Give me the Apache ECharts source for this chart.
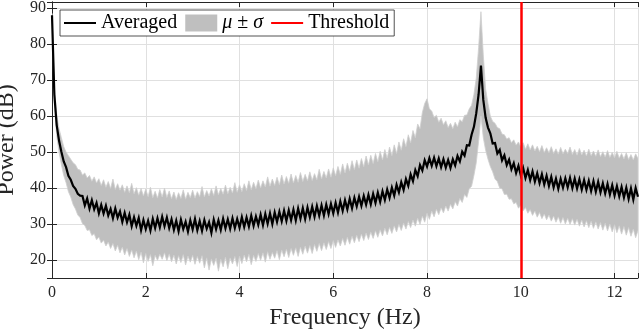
<!DOCTYPE html>
<html>
<head>
<meta charset="utf-8">
<script src="https://cdn.jsdelivr.net/npm/echarts@6/dist/echarts.min.js"></script>
<style>
    html, body { margin: 0; padding: 0; background: #fff; }
    #myChart { width: 640px; height: 331px; }
</style>
</head>
<body>
<div id="myChart"></div>
<script>
    // spectrum sampled every 0.05 Hz from 0 to 12.5 Hz
    var freqStep = 0.05;
    var avgPower = [
        88, 66, 57.5, 53.2, 50.1, 47.4, 45.8, 43.4, 42.3, 40.6,
        39.8, 38.4, 37.9, 37.8, 35.2, 37.1, 34.3, 36.6, 34.1, 35.9,
        33.0, 35.3, 32.9, 35.1, 32.4, 34.2, 31.6, 34.3, 31.8, 33.5,
        30.6, 33.1, 30.5, 32.6, 29.4, 31.9, 29.5, 31.7, 28.3, 31.1,
        28.6, 30.9, 28.2, 31.4, 28.9, 31.6, 29.1, 32.0, 29.4, 31.8,
        28.9, 31.3, 28.4, 30.9, 28.0, 31.2, 28.6, 30.6, 27.9, 31.0,
        28.5, 31.4, 28.3, 30.8, 28.1, 31.1, 28.7, 30.5, 27.6, 31.2,
        28.6, 31.0, 28.4, 31.5, 28.8, 31.3, 28.7, 31.6, 28.9, 31.4,
        29.0, 31.9, 29.2, 31.8, 29.3, 32.3, 29.5, 32.1, 29.8, 32.6,
        29.7, 32.8, 30.1, 33.0, 30.0, 33.2, 30.6, 33.4, 30.8, 33.7,
        30.9, 33.8, 31.1, 34.0, 31.0, 34.3, 31.5, 34.4, 31.4, 34.6,
        31.9, 34.8, 32.0, 35.0, 32.3, 35.2, 32.4, 35.4, 32.8, 35.6,
        33.0, 35.9, 33.2, 36.3, 33.7, 36.6, 34.1, 37.0, 34.4, 37.3,
        34.9, 37.6, 35.1, 37.8, 35.4, 38.1, 35.5, 38.4, 35.9, 38.7,
        36.2, 39.1, 36.7, 39.6, 37.3, 40.1, 37.9, 40.9, 38.8, 41.6,
        39.5, 42.5, 40.6, 43.8, 41.9, 45.0, 43.3, 46.4, 44.9, 47.7,
        46.0, 48.3, 46.2, 48.4, 46.1, 48.2, 45.8, 48.0, 45.7, 47.8,
        45.6, 48.0, 46.3, 48.9, 47.4, 50.1, 49.0, 51.9, 51.8, 54.8,
        57.0, 60.8, 66.0, 74.0, 64.5, 59.5, 56.8, 55.2, 52.4, 52.5,
        49.6, 50.6, 47.7, 49.1, 46.4, 47.9, 45.2, 46.9, 44.2, 46.2,
        43.5, 45.6, 42.8, 45.0, 42.2, 44.6, 41.8, 44.1, 41.4, 43.8,
        41.0, 43.4, 40.6, 43.1, 40.2, 42.6, 39.8, 42.5, 40.1, 42.7,
        40.2, 42.8, 40.0, 42.6, 39.9, 42.4, 39.6, 42.2, 39.5, 42.0,
        39.2, 41.9, 39.0, 41.7, 38.8, 41.3, 38.5, 41.1, 38.2, 40.8,
        37.9, 40.5, 37.7, 40.3, 37.4, 40.1, 37.0, 39.9, 36.8, 40.0,
        37.6
    ];
    var upperPower = [
        88.5, 68, 60.5, 56.5, 54, 51.5, 50, 49, 48, 47,
        46.5, 45.2, 45.0, 43.6, 44.2, 42.8, 43.5, 41.9, 43.1, 41.4,
        42.6, 40.7, 42.3, 40.2, 41.8, 39.9, 42.5, 39.6, 41.2, 39.4,
        40.9, 38.8, 40.6, 38.7, 41.3, 38.4, 40.1, 38.0, 39.9, 37.8,
        39.7, 37.6, 40.2, 37.3, 39.1, 37.2, 39.6, 37.5, 40.0, 37.4,
        39.2, 37.0, 38.9, 36.8, 38.7, 37.1, 39.5, 36.9, 38.8, 37.3,
        39.4, 37.2, 39.0, 37.6, 40.4, 37.5, 39.3, 37.8, 39.8, 37.9,
        40.6, 38.1, 39.9, 38.3, 40.8, 38.4, 40.2, 38.6, 41.5, 38.8,
        40.9, 39.0, 41.2, 39.3, 42.0, 39.5, 41.6, 39.8, 42.2, 40.0,
        42.0, 40.3, 43.1, 40.5, 42.5, 40.7, 43.0, 40.9, 43.6, 41.1,
        43.2, 41.3, 43.9, 41.4, 43.5, 41.6, 44.3, 41.8, 43.8, 42.0,
        44.5, 42.1, 44.0, 42.3, 45.2, 42.5, 44.6, 42.8, 45.3, 43.0,
        45.6, 43.4, 46.0, 43.8, 46.7, 44.2, 46.9, 44.7, 47.6, 45.1,
        47.8, 45.5, 48.2, 45.9, 48.9, 46.4, 49.1, 46.8, 49.6, 47.3,
        50.2, 47.8, 50.7, 48.3, 51.4, 49.0, 52.0, 49.6, 52.8, 50.5,
        53.7, 51.5, 54.8, 52.6, 56.0, 54.0, 57.8, 56.5, 61.0, 63.5,
        64.8, 62.0, 61.4, 59.6, 60.2, 58.3, 59.4, 57.6, 58.7, 56.8,
        58.0, 56.5, 58.3, 57.0, 59.0, 58.4, 60.2, 60.3, 62.0, 63.0,
        66.0, 70.5, 79.0, 89.0, 77.0, 67.5, 63.5, 60.0, 58.5, 58.0,
        56.8, 56.5, 55.0, 54.8, 53.6, 54.0, 52.6, 53.4, 51.9, 52.8,
        51.4, 52.6, 50.8, 52.3, 50.6, 52.0, 50.3, 51.6, 50.1, 51.8,
        49.9, 51.2, 49.8, 51.5, 49.6, 50.9, 49.4, 51.3, 49.5, 50.8,
        49.6, 51.4, 49.3, 50.7, 49.1, 51.0, 49.2, 50.5, 48.9, 50.8,
        49.0, 50.3, 48.8, 50.6, 48.7, 50.1, 48.6, 50.4, 48.5, 49.9,
        48.4, 50.2, 48.3, 49.6, 48.1, 49.8, 47.9, 49.3, 47.8, 49.5,
        48.2
    ];
    var lowerPower = [
        87, 63.5, 54.5, 50, 46.5, 43.5, 41.5, 39, 37.5, 35.4,
        34.2, 32.5, 31.8, 30.1, 29.6, 28.2, 28.4, 26.8, 27.3, 25.6,
        26.4, 24.7, 25.5, 23.9, 25.0, 23.2, 24.6, 22.5, 24.1, 22.0,
        23.6, 21.4, 23.2, 21.0, 22.8, 20.6, 22.5, 20.1, 22.2, 19.2,
        21.8, 19.6, 21.5, 18.4, 21.3, 19.9, 21.6, 20.2, 22.0, 19.8,
        21.7, 19.5, 21.4, 18.9, 21.2, 19.3, 21.5, 18.6, 21.1, 19.4,
        21.3, 18.8, 21.0, 19.1, 21.2, 17.8, 20.6, 17.2, 20.3, 18.5,
        20.5, 16.9, 20.2, 18.1, 20.8, 17.6, 20.6, 18.9, 21.0, 18.2,
        21.1, 19.0, 21.4, 19.5, 21.6, 18.7, 21.3, 19.6, 21.8, 19.9,
        22.0, 19.4, 22.3, 20.2, 22.1, 20.5, 22.6, 20.1, 22.8, 20.9,
        23.0, 20.7, 23.2, 21.3, 23.4, 21.0, 23.6, 21.6, 23.9, 21.9,
        24.0, 21.8, 24.3, 22.4, 24.6, 22.6, 24.8, 22.9, 25.1, 23.2,
        25.4, 23.5, 25.6, 23.9, 26.0, 24.1, 26.3, 24.4, 26.6, 24.8,
        26.9, 25.1, 27.2, 25.4, 27.5, 25.7, 27.8, 26.0, 28.1, 26.3,
        28.4, 26.7, 28.8, 27.0, 29.1, 27.4, 29.5, 27.8, 29.9, 28.2,
        30.3, 28.6, 30.7, 29.0, 31.1, 29.4, 31.6, 29.9, 32.2, 30.5,
        33.0, 31.3, 33.6, 32.0, 34.1, 32.6, 34.5, 33.1, 35.0, 33.6,
        35.5, 34.2, 36.2, 35.0, 37.1, 36.0, 38.2, 37.4, 39.8, 40.5,
        43.5, 47.0, 53.0, 60.0, 54.0, 50.5, 48.0, 46.0, 44.5, 42.5,
        41.8, 40.0, 39.8, 38.2, 38.3, 36.9, 37.0, 35.6, 36.0, 34.4,
        35.2, 33.7, 34.6, 33.0, 34.0, 32.4, 33.6, 31.9, 33.2, 31.5,
        32.8, 31.2, 32.5, 30.8, 32.2, 30.5, 32.0, 30.2, 31.8, 30.0,
        31.6, 29.9, 31.5, 29.7, 31.3, 29.4, 31.1, 29.2, 30.9, 29.0,
        30.8, 28.8, 30.6, 28.6, 30.4, 28.3, 30.2, 28.1, 30.0, 27.8,
        29.8, 27.6, 29.5, 27.2, 29.3, 26.9, 29.0, 26.6, 28.6, 26.2,
        28.2
    ];
    var threshold = 10;
    var xRange = [0, 12.5];
    var yRange = [15, 91.7];

    var serif = "'Liberation Serif', 'DejaVu Serif', serif";
    var axisColor = '#262626';
    var bandColor = '#bfbfbf';

    function freqAt(i) { return +(i * freqStep).toFixed(2); }
    function pairs(values) {
        return values.map(function (v, i) { return [freqAt(i), v]; });
    }
    // [freq, lower, upper] rows for the mu +/- sigma band
    var bandRows = lowerPower.map(function (v, i) { return [freqAt(i), v, upperPower[i]]; });

    var option = {
        animation: false,
        grid: { left: 52, right: 2, top: 2, bottom: 53, outerBoundsMode: 'none', containLabel: false },
        legend: {
            left: 60,
            top: 10,
            padding: [3, 5, 3, 4],
            itemGap: 8,
            itemWidth: 32,
            itemHeight: 17,
            backgroundColor: '#fff',
            borderColor: axisColor,
            borderWidth: 0.8,
            textStyle: {
                fontFamily: serif, fontSize: 20, color: '#000',
                rich: { i: { fontFamily: serif, fontSize: 20, fontStyle: 'italic', color: '#000' } }
            },
            formatter: function (name) {
                return name === 'μ ± σ' ? '{i|μ} ± {i|σ}' : name;
            },
            data: [
                { name: 'Averaged', icon: 'path://M0,0L32,0L32,2L0,2Z', itemStyle: { color: '#000' } },
                { name: 'μ ± σ', icon: 'rect', itemStyle: { color: bandColor } },
                { name: 'Threshold', icon: 'path://M0,0L32,0L32,2L0,2Z', itemStyle: { color: '#ff0000' } }
            ]
        },
        xAxis: [{
            type: 'value',
            min: xRange[0], max: xRange[1], interval: 2,
            position: 'bottom',
            name: 'Frequency (Hz)',
            nameLocation: 'middle',
            nameGap: 23,
            nameTextStyle: { fontFamily: serif, fontSize: 24, color: axisColor },
            axisLine: { show: true, lineStyle: { color: axisColor, width: 1 } },
            axisTick: { show: true, inside: true, length: 5, lineStyle: { color: axisColor } },
            axisLabel: {
                fontFamily: serif, fontSize: 16, color: axisColor, margin: 7,
                formatter: function (v) { return v % 2 === 0 ? v : ''; }
            },
            splitLine: { show: true, lineStyle: { color: '#e0e0e0', width: 1 } }
        }, {
            type: 'value',
            min: xRange[0], max: xRange[1], interval: 2,
            position: 'top',
            axisLine: { show: true, lineStyle: { color: axisColor, width: 1 } },
            axisTick: { show: true, inside: true, length: 5, lineStyle: { color: axisColor } },
            axisLabel: { show: false },
            splitLine: { show: false }
        }],
        yAxis: [{
            type: 'value',
            min: yRange[0], max: yRange[1], splitNumber: 8,
            position: 'left',
            name: 'Power (dB)',
            nameLocation: 'middle',
            nameGap: 26,
            nameTextStyle: { fontFamily: serif, fontSize: 24, color: axisColor },
            axisLine: { show: true, lineStyle: { color: axisColor, width: 1 } },
            axisTick: { show: true, inside: true, length: 5, lineStyle: { color: axisColor } },
            axisLabel: {
                fontFamily: serif, fontSize: 16, color: axisColor, margin: 6,
                formatter: function (v) { return v % 10 === 0 ? v : ''; }
            },
            splitLine: { show: true, lineStyle: { color: '#e0e0e0', width: 1 } }
        }, {
            type: 'value',
            min: yRange[0], max: yRange[1], splitNumber: 8,
            position: 'right',
            axisLine: { show: true, lineStyle: { color: axisColor, width: 1 } },
            axisTick: { show: true, inside: true, length: 5, lineStyle: { color: axisColor } },
            axisLabel: { show: false },
            splitLine: { show: false }
        }],
        series: [{
            name: 'μ ± σ',
            type: 'custom',
            data: bandRows,
            silent: true,
            clip: true,
            itemStyle: { color: bandColor },
            encode: { x: 0, y: [1, 2] },
            renderItem: function (params, api) {
                // draw the whole band once, as one polygon
                if (params.dataIndexInside !== 0) return null;
                var n = params.dataInsideLength;
                var pts = [];
                for (var i = 0; i < n; i++) {
                    pts.push(api.coord([api.value(0, i), api.value(2, i)]));
                }
                for (var j = n - 1; j >= 0; j--) {
                    pts.push(api.coord([api.value(0, j), api.value(1, j)]));
                }
                return {
                    type: 'polygon',
                    shape: { points: pts },
                    style: { fill: bandColor, stroke: '#cfcfcf', lineWidth: 0.8 }
                };
            },
            z: 2
        }, {
            name: 'Averaged',
            type: 'line',
            data: pairs(avgPower),
            symbol: 'none',
            itemStyle: { color: '#000' },
            lineStyle: { color: '#000', width: 2.2, join: 'miter' },
            z: 3
        }, {
            name: 'Threshold',
            type: 'line',
            data: [],
            symbol: 'none',
            itemStyle: { color: '#ff0000' },
            lineStyle: { color: '#ff0000', width: 2.5 },
            markLine: {
                silent: true,
                symbol: 'none',
                label: { show: false },
                lineStyle: { color: '#ff0000', width: 2.5, type: 'solid' },
                data: [{ xAxis: threshold }]
            },
            z: 4
        }]
    };

    var myChart = echarts.init(document.getElementById('myChart'));
    myChart.setOption(option);
</script>
</body>
</html>
